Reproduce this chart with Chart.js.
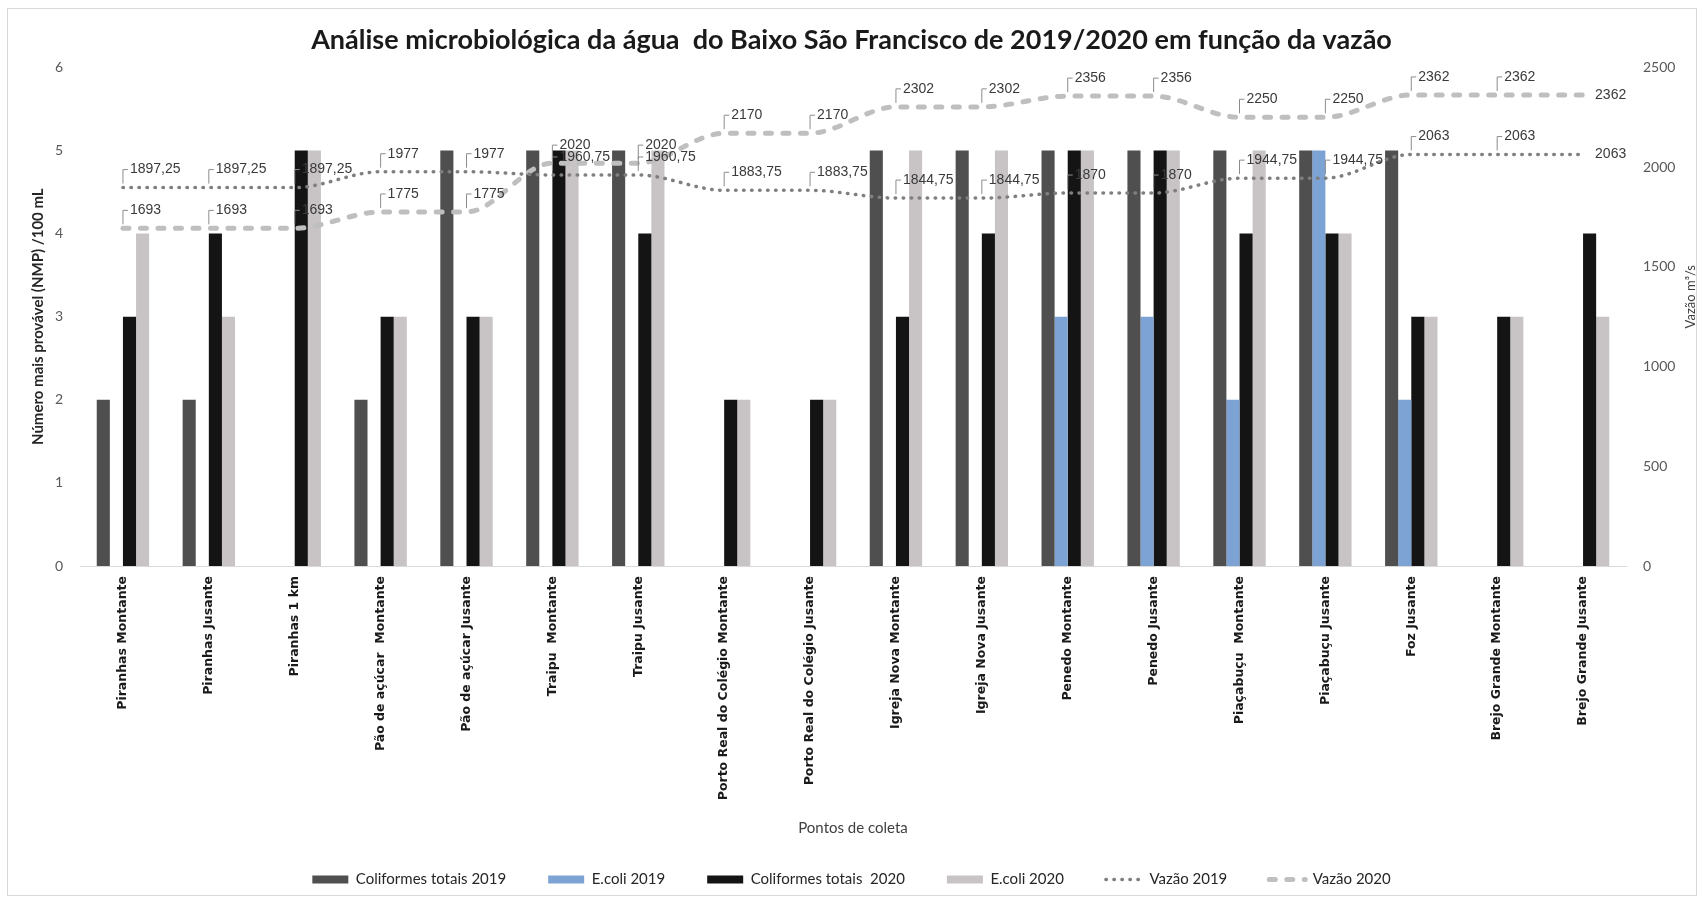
<!DOCTYPE html>
<html>
<head>
<meta charset="utf-8">
<script src="https://cdn.jsdelivr.net/npm/chart.js@4.4.1/dist/chart.umd.min.js"></script>
<style>
html, body { margin: 0; padding: 0; background: #fff; }
#wrap { position: relative; width: 1703px; height: 903px; }
#frame { position: absolute; left: 7px; top: 8px; width: 1688px; height: 886px; border: 1px solid #d9d9d9; pointer-events: none; }
</style>
</head>
<body>
<div id="wrap">
  <canvas id="chart" width="1703" height="903"></canvas>
  <div id="frame"></div>
</div>
<script>
const pontos = [
    'Piranhas Montante', 'Piranhas Jusante', 'Piranhas 1 km', 'Pão de açúcar  Montante',
    'Pão de açúcar Jusante', 'Traipu  Montante', 'Traipu Jusante', 'Porto Real do Colégio Montante',
    'Porto Real do Colégio Jusante', 'Igreja Nova Montante', 'Igreja Nova Jusante', 'Penedo Montante',
    'Penedo Jusante', 'Piaçabuçu  Montante', 'Piaçabuçu Jusante', 'Foz Jusante',
    'Brejo Grande Montante', 'Brejo Grande Jusante'
];
const coliformes2019 = [2, 2, 0, 2, 5, 5, 5, 0, 0, 5, 5, 5, 5, 5, 5, 5, 0, 0];
const ecoli2019      = [0, 0, 0, 0, 0, 0, 0, 0, 0, 0, 0, 3, 3, 2, 5, 2, 0, 0];
const coliformes2020 = [3, 4, 5, 3, 3, 5, 4, 2, 2, 3, 4, 5, 5, 4, 4, 3, 3, 4];
const ecoli2020      = [4, 3, 5, 3, 3, 5, 5, 2, 2, 5, 5, 5, 5, 5, 4, 3, 3, 3];
const vazao2019 = [1897.25, 1897.25, 1897.25, 1977, 1977, 1960.75, 1960.75, 1883.75, 1883.75,
    1844.75, 1844.75, 1870, 1870, 1944.75, 1944.75, 2063, 2063, 2063];
const vazao2020 = [1693, 1693, 1693, 1775, 1775, 2020, 2020, 2170, 2170,
    2302, 2302, 2356, 2356, 2250, 2250, 2362, 2362, 2362];

const fmt = v => String(v).replace('.', ',');

// data labels for the two flow lines (Excel style with small leader)
const vazaoLabels = {
    id: 'vazaoLabels',
    afterDatasetsDraw(chart) {
        const ctx = chart.ctx;
        ctx.save();
        ctx.font = '14px "Liberation Sans"';
        ctx.fillStyle = '#3a3a3a';
        ctx.strokeStyle = '#8c8c8c';
        ctx.lineWidth = 1;
        ctx.textBaseline = 'middle';
        ctx.textAlign = 'left';
        [4, 5].forEach(di => {
            const meta = chart.getDatasetMeta(di);
            const values = chart.data.datasets[di].data;
            meta.data.forEach((pt, i) => {
                const txt = fmt(values[i]);
                if (i === values.length - 1) {
                    ctx.fillText(txt, pt.x + 12, pt.y);
                    return;
                }
                const ly = pt.y - 18;
                ctx.beginPath();
                ctx.moveTo(pt.x, pt.y - 4);
                ctx.lineTo(pt.x, ly);
                ctx.lineTo(pt.x + 5, ly);
                ctx.stroke();
                ctx.fillText(txt, pt.x + 7, ly);
            });
        });
        ctx.restore();
    }
};

// right axis title reads bottom-to-top like the left one
const rightTitle = {
    id: 'rightTitle',
    afterDraw(chart) {
        const ctx = chart.ctx;
        const s = chart.scales.y2;
        ctx.save();
        ctx.translate(s.right - 12, (chart.chartArea.top + chart.chartArea.bottom) / 2 - 20);
        ctx.rotate(-Math.PI / 2);
        ctx.font = '13px Lato';
        ctx.fillStyle = '#404040';
        ctx.textAlign = 'center';
        ctx.textBaseline = 'middle';
        ctx.fillText('Vazão m³/s', 0, 0);
        ctx.restore();
    }
};

const data = {
    labels: pontos,
    datasets: [
        { type: 'bar', label: 'Coliformes totais 2019', data: coliformes2019, backgroundColor: '#4f4f4f', yAxisID: 'y', pointStyle: 'rect', order: 1 },
        { type: 'bar', label: 'E.coli 2019', data: ecoli2019, backgroundColor: '#7ca3d4', yAxisID: 'y', pointStyle: 'rect', order: 1 },
        { type: 'bar', label: 'Coliformes totais  2020', data: coliformes2020, backgroundColor: '#141414', yAxisID: 'y', pointStyle: 'rect', order: 1 },
        { type: 'bar', label: 'E.coli 2020', data: ecoli2020, backgroundColor: '#c8c3c4', yAxisID: 'y', pointStyle: 'rect', order: 1 },
        {
            type: 'line', label: 'Vazão 2019', data: vazao2019, yAxisID: 'y2', order: 0,
            borderColor: '#7f7f7f', backgroundColor: '#7f7f7f', borderWidth: 3.5,
            borderDash: [0.5, 7.5], borderCapStyle: 'round',
            pointRadius: 0, pointStyle: 'line', cubicInterpolationMode: 'monotone', fill: false
        },
        {
            type: 'line', label: 'Vazão 2020', data: vazao2020, yAxisID: 'y2', order: 0,
            borderColor: '#bfbfbf', backgroundColor: '#bfbfbf', borderWidth: 5,
            borderDash: [6, 11.5], borderCapStyle: 'round',
            pointRadius: 0, pointStyle: 'line', cubicInterpolationMode: 'monotone', fill: false
        }
    ]
};

const config = {
    type: 'bar',
    data: data,
    options: {
        responsive: false,
        animation: false,
        events: [],
        layout: { padding: { left: 0, right: 0, top: 0, bottom: 6 } },
        datasets: {
            bar: { barPercentage: 1, categoryPercentage: 0.61 }
        },
        scales: {
            x: {
                grid: { display: false, drawTicks: false },
                border: { display: true, color: '#d9d9d9', width: 1 },
                ticks: {
                    autoSkip: false, maxRotation: 90, minRotation: 90, padding: 10,
                    color: '#1a1a1a', font: { family: '"DejaVu Sans"', size: 12.5, weight: 'bold' }
                },
                title: {
                    display: true, text: 'Pontos de coleta', color: '#404040',
                    font: { family: 'Lato', size: 15 }, padding: { top: 0, bottom: -7 }
                },
                afterFit(scale) { scale.height = 264; }
            },
            y: {
                position: 'left', min: 0, max: 6,
                grid: { display: false, drawTicks: false },
                border: { display: false },
                ticks: { stepSize: 1, padding: 17, color: '#595959', font: { family: 'Lato', size: 14 } },
                title: {
                    display: true, text: 'Número mais provável (NMP) /100 mL', color: '#262626',
                    font: { family: 'Lato', size: 15, weight: 'bold' }, padding: { top: 29, bottom: 0 }
                },
                afterFit(scale) { scale.width = 80; }
            },
            y2: {
                position: 'right', min: 0, max: 2500,
                grid: { display: false, drawTicks: false },
                border: { display: false },
                ticks: {
                    stepSize: 500, padding: 17, color: '#595959', font: { family: 'Lato', size: 14 },
                    callback: v => String(v)
                },
                afterFit(scale) { scale.width = 77; }
            }
        },
        plugins: {
            title: {
                display: true,
                text: 'Análise microbiológica da água  do Baixo São Francisco de 2019/2020 em função da vazão',
                color: '#1a1a1a',
                font: { family: 'Lato', size: 27, weight: 'bold' },
                padding: { top: 24, bottom: 11 }
            },
            legend: {
                position: 'bottom',
                labels: {
                    usePointStyle: true, pointStyleWidth: 36, boxHeight: 8, padding: 42,
                    color: '#262626', font: { family: 'Lato', size: 15 },
                    sort: (a, b) => a.datasetIndex - b.datasetIndex,
                    generateLabels(chart) {
                        const items = Chart.defaults.plugins.legend.labels.generateLabels(chart);
                        items.forEach(it => {
                            const ds = chart.data.datasets[it.datasetIndex];
                            if (ds.type === 'line') {
                                it.lineDash = ds.borderDash;
                                it.lineWidth = ds.borderWidth;
                                it.lineCap = ds.borderCapStyle;
                                it.strokeStyle = ds.borderColor;
                            }
                        });
                        return items;
                    }
                }
            },
            tooltip: { enabled: false }
        }
    },
    plugins: [vazaoLabels, rightTitle]
};

const myChart = new Chart(document.getElementById('chart'), config);
</script>
</body>
</html>
